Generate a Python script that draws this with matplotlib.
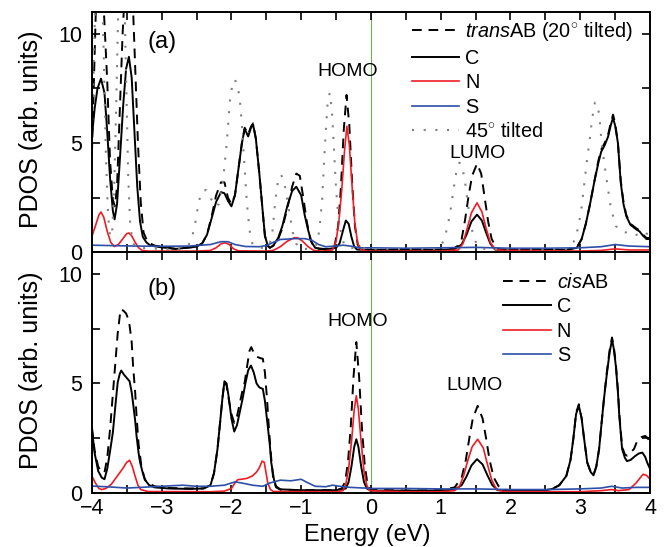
import numpy as np
import matplotlib
matplotlib.use("Agg")
import matplotlib.pyplot as plt
from matplotlib.ticker import MultipleLocator

plt.rcParams['font.family'] = ['Liberation Sans', 'DejaVu Sans']
plt.rcParams['mathtext.fontset'] = 'custom'
plt.rcParams['mathtext.rm'] = 'Liberation Sans'
plt.rcParams['mathtext.it'] = 'Liberation Sans:italic'

# ---- panel (a): transAB (20 deg tilted) ----
transAB_E = [-4.0, -3.97, -3.94, -3.9, -3.86, -3.82, -3.78, -3.74, -3.7, -3.67, -3.64, -3.6, -3.56, -3.52, -3.47, -3.42,
             -3.38, -3.34, -3.3, -3.26, -3.2, -3.1, -3.0, -2.8, -2.65, -2.5, -2.42, -2.35, -2.28, -2.22, -2.15, -2.1,
             -2.05, -2.0, -1.95, -1.9, -1.85, -1.81, -1.76, -1.72, -1.69, -1.65, -1.6, -1.55, -1.52, -1.48, -1.45, -1.4,
             -1.33, -1.27, -1.2, -1.13, -1.07, -1.02, -0.97, -0.92, -0.87, -0.82, -0.75, -0.6, -0.52, -0.47, -0.43, -0.39,
             -0.35, -0.31, -0.27, -0.23, -0.19, -0.15, 0.0, 0.5, 1.0, 1.2, 1.25, 1.3, 1.35, 1.4, 1.45, 1.52, 1.58, 1.63,
             1.68, 1.73, 1.8, 1.85, 2.0, 2.5, 2.8, 2.95, 3.02, 3.08, 3.14, 3.2, 3.26, 3.3, 3.35, 3.4, 3.44, 3.47, 3.5,
             3.54, 3.58, 3.62, 3.66, 3.72, 3.8, 3.85, 3.9, 3.95, 4.0]
transAB = [4.5, 8.0, 11.5, 13.5, 13.0, 10.5, 7.8, 4.2, 2.4, 2.1, 3.0, 6.5, 10.0, 12.5, 13.5, 12.0,
           8.5, 5.0, 2.3, 0.9, 0.45, 0.3, 0.25, 0.15, 0.2, 0.25, 0.4, 0.8, 1.7, 2.6, 3.2, 3.2,
           2.5, 2.2, 2.6, 3.8, 5.0, 5.7, 5.4, 5.75, 5.9, 5.2, 3.6, 1.8, 0.75, 0.3, 0.2, 0.3,
           0.6, 1.1, 2.0, 3.0, 3.6, 3.5, 2.5, 1.4, 0.6, 0.25, 0.15, 0.15, 0.3, 1.2, 3.0, 5.6,
           7.2, 5.8, 3.2, 1.2, 0.35, 0.15, 0.1, 0.1, 0.12, 0.2, 0.3, 0.6, 1.5, 2.6, 3.5, 4.05, 3.6, 2.5,
           1.4, 0.6, 0.2, 0.12, 0.1, 0.1, 0.1, 0.2, 0.6, 1.3, 2.2, 3.2, 4.2, 4.7, 5.0, 5.4, 5.95, 6.3, 5.9,
           5.0, 3.3, 2.3, 1.7, 1.3, 1.1, 1.0, 0.8, 0.65, 0.65]

transC_E = [-4.0, -3.96, -3.92, -3.87, -3.82, -3.78, -3.74, -3.7, -3.675, -3.64, -3.6, -3.55, -3.51, -3.47, -3.43, -3.39,
            -3.35, -3.31, -3.27, -3.22, -3.16, -3.0, -2.8, -2.65, -2.5, -2.42, -2.35, -2.28, -2.22, -2.15, -2.1, -2.05,
            -2.0, -1.95, -1.9, -1.85, -1.81, -1.76, -1.72, -1.69, -1.65, -1.6, -1.55, -1.52, -1.48, -1.45, -1.4, -1.33,
            -1.27, -1.2, -1.13, -1.07, -1.0, -0.95, -0.9, -0.85, -0.8, -0.7, -0.6, -0.5, -0.45, -0.4, -0.36, -0.32,
            -0.28, -0.24, -0.2, 0.0, 0.5, 1.0, 1.2, 1.3, 1.37, 1.44, 1.52, 1.59, 1.65, 1.71, 1.78, 2.0, 2.5, 2.8,
            2.95, 3.02, 3.08, 3.14, 3.2, 3.26, 3.3, 3.35, 3.4, 3.44, 3.47, 3.5, 3.54, 3.58, 3.62, 3.66, 3.72, 3.8,
            3.85, 3.9, 3.95, 4.0]
transC = [5.3, 6.6, 7.5, 7.95, 7.3, 5.5, 3.4, 1.9, 1.5, 2.2, 4.2, 6.8, 8.4, 8.95, 8.0, 5.5,
          3.0, 1.4, 0.7, 0.45, 0.3, 0.22, 0.15, 0.2, 0.25, 0.4, 0.8, 1.6, 2.3, 2.75, 2.7, 2.35,
          2.1, 2.6, 3.8, 5.0, 5.65, 5.3, 5.7, 5.85, 5.2, 3.6, 1.8, 0.75, 0.3, 0.2, 0.3, 0.65,
          1.2, 2.1, 2.8, 3.0, 2.6, 1.7, 1.0, 0.45, 0.2, 0.15, 0.15, 0.2, 0.4, 1.0, 1.45, 1.3,
          0.7, 0.25, 0.12, 0.1, 0.1, 0.1, 0.15, 0.35, 0.8, 1.4, 1.72, 1.45, 0.9, 0.4, 0.12, 0.1, 0.1, 0.1,
          0.2, 0.6, 1.3, 2.2, 3.2, 4.1, 4.6, 4.9, 5.3, 5.85, 6.15, 5.8, 5.0, 3.2, 2.2, 1.65, 1.25, 1.05,
          0.95, 0.75, 0.6, 0.6]

transN_E = [-4.0, -3.95, -3.9, -3.87, -3.83, -3.78, -3.73, -3.68, -3.62, -3.56, -3.5, -3.47, -3.43, -3.38, -3.33, -3.28,
            -3.2, -2.5, -2.3, -2.22, -2.15, -2.09, -2.03, -1.97, -1.9, -1.5, -1.4, -1.3, -1.2, -1.1, -1.05, -0.98,
            -0.9, -0.82, -0.7, -0.55, -0.5, -0.46, -0.42, -0.38, -0.345, -0.31, -0.27, -0.23, -0.19, -0.14, -0.05,
            1.0, 1.25, 1.32, 1.38, 1.44, 1.52, 1.59, 1.65, 1.71, 1.78, 1.9, 3.0, 3.3, 3.5, 3.7, 4.0]
transN = [0.73, 1.2, 1.7, 1.84, 1.6, 0.95, 0.45, 0.26, 0.35, 0.6, 0.85, 0.88, 0.75, 0.45, 0.2, 0.08,
          0.05, 0.05, 0.08, 0.2, 0.38, 0.43, 0.35, 0.15, 0.06, 0.05, 0.08, 0.25, 0.5, 0.66, 0.66, 0.5,
          0.25, 0.08, 0.05, 0.1, 0.5, 1.4, 2.8, 4.6, 5.77, 4.9, 3.0, 1.3, 0.4, 0.1, 0.05,
          0.05, 0.1, 0.4, 1.1, 1.8, 2.26, 1.85, 1.1, 0.45, 0.12, 0.08, 0.05, 0.08, 0.15, 0.1, 0.1]

transS_E = [-4.0, -3.7, -3.4, -3.0, -2.6, -2.3, -2.15, -2.05, -1.95, -1.8, -1.6, -1.5, -1.4, -1.3, -1.1, -0.95,
            -0.85, -0.75, -0.65, -0.5, -0.4, -0.3, -0.15, 0.0, 0.5, 1.0, 1.5, 2.0, 2.5, 3.0, 3.3, 3.5, 3.7, 4.0]
transS = [0.32, 0.3, 0.28, 0.27, 0.28, 0.35, 0.48, 0.48, 0.35, 0.26, 0.25, 0.3, 0.45, 0.58, 0.62, 0.62,
          0.55, 0.35, 0.25, 0.28, 0.32, 0.28, 0.2, 0.2, 0.18, 0.2, 0.22, 0.18, 0.18, 0.2, 0.25, 0.35, 0.28, 0.25]

tilt45_E = [-4.0, -3.97, -3.94, -3.9, -3.86, -3.83, -3.8, -3.77, -3.74, -3.71, -3.68, -3.65, -3.62, -3.58, -3.54, -3.51,
            -3.48, -3.45, -3.41, -3.35, -3.0, -2.7, -2.62, -2.57, -2.52, -2.47, -2.42, -2.36, -2.3, -2.24, -2.18, -2.12,
            -2.07, -2.02, -1.98, -1.95, -1.91, -1.88, -1.85, -1.82, -1.78, -1.74, -1.7, -1.64, -1.5, -1.45, -1.41, -1.37,
            -1.33, -1.29, -1.25, -1.21, -1.17, -1.12, -1.06, -1.0, -0.85, -0.78, -0.74, -0.7, -0.66, -0.62, -0.59, -0.56,
            -0.53, -0.5, -0.47, -0.43, -0.39, -0.33, 0.0, 0.5, 0.9, 1.0, 1.05, 1.1, 1.14, 1.18, 1.22, 1.27, 1.31, 1.35,
            1.39, 1.43, 1.47, 1.52, 1.6, 2.0, 2.5, 2.8, 2.87, 2.94, 3.01, 3.06, 3.1, 3.13, 3.17, 3.21, 3.25, 3.28,
            3.31, 3.37, 3.44, 3.51, 3.58, 3.66, 3.77, 3.85, 3.9, 3.95, 4.0]
tilt45 = [5.5, 9.0, 13.0, 15.0, 13.0, 9.0, 4.5, 1.8, 0.7, 0.9, 3.0, 7.0, 11.5, 14.0, 12.5, 8.0,
          3.5, 1.2, 0.4, 0.2, 0.15, 0.15, 0.3, 0.6, 1.3, 2.3, 2.8, 2.85, 2.5, 2.1, 2.2, 3.3,
          4.9, 7.0, 7.8, 7.9, 7.6, 7.0, 5.8, 4.3, 2.3, 1.0, 0.4, 0.2, 0.2, 0.4, 1.0, 2.4,
          3.3, 3.55, 3.3, 2.6, 1.8, 0.9, 0.3, 0.15, 0.15, 0.35, 1.0, 2.4, 4.9, 6.9, 7.3, 6.5,
          4.7, 2.9, 1.7, 0.9, 0.4, 0.2, 0.15, 0.15, 0.15, 0.25, 0.6, 1.2, 1.9, 2.8, 3.6, 4.1, 3.9, 3.2,
          2.2, 1.3, 0.7, 0.35, 0.15, 0.12, 0.12, 0.15, 0.25, 0.7, 1.8, 3.2, 4.3, 5.0, 6.1, 6.85, 6.8, 6.0,
          4.9, 3.5, 2.0, 1.2, 0.95, 0.9, 0.75, 0.85, 0.95, 0.85, 0.8]

# ---- panel (b): cisAB ----
cisAB_E = [-4.0, -3.96, -3.91, -3.86, -3.82, -3.78, -3.74, -3.7, -3.66, -3.63, -3.6, -3.58, -3.54, -3.51, -3.48, -3.46,
           -3.43, -3.41, -3.38, -3.36, -3.33, -3.29, -3.24, -3.2, -3.1, -2.9, -2.6, -2.4, -2.3, -2.25, -2.2, -2.16,
           -2.13, -2.1, -2.07, -2.04, -2.0, -1.96, -1.92, -1.88, -1.84, -1.81, -1.77, -1.74, -1.716, -1.68, -1.65, -1.62,
           -1.58, -1.55, -1.52, -1.49, -1.46, -1.43, -1.4, -1.36, -1.3, -1.0, -0.5, -0.42, -0.37, -0.33, -0.29, -0.25,
           -0.21, -0.17, -0.13, -0.09, -0.05, -0.01, 0.5, 1.0, 1.2, 1.3, 1.36, 1.41, 1.46, 1.53, 1.6, 1.65, 1.7, 1.76,
           1.83, 1.9, 2.0, 2.5, 2.6, 2.7, 2.8, 2.86, 2.9, 2.94, 2.98, 3.02, 3.05, 3.1, 3.15, 3.19, 3.23, 3.27,
           3.3, 3.34, 3.38, 3.42, 3.455, 3.48, 3.51, 3.54, 3.56, 3.6, 3.64, 3.67, 3.72, 3.77, 3.82, 3.88, 3.93, 3.97, 4.0]
cisAB = [3.0, 1.9, 1.2, 0.95, 0.93, 1.6, 2.9, 4.5, 6.1, 7.3, 8.1, 8.4, 8.3, 8.2, 7.95, 7.65,
         6.9, 5.8, 4.6, 3.5, 2.2, 1.2, 0.6, 0.45, 0.3, 0.22, 0.2, 0.2, 0.35, 0.9, 2.0, 3.3,
         4.3, 5.1, 4.9, 4.3, 3.6, 3.2, 3.5, 4.1, 4.7, 5.05, 5.9, 6.5, 6.66, 6.4, 6.25, 6.2,
         6.15, 6.13, 5.5, 4.3, 2.8, 1.6, 0.6, 0.25, 0.15, 0.12, 0.12, 0.2, 0.5, 1.4, 3.0, 5.3,
         6.89, 5.3, 3.0, 1.3, 0.4, 0.15, 0.1, 0.12, 0.25, 0.7, 1.5, 2.5, 3.4, 3.98, 3.4, 2.5, 1.5, 0.7,
         0.3, 0.15, 0.12, 0.12, 0.18, 0.35, 0.77, 1.5, 2.45, 3.65, 4.05, 3.4, 2.6, 1.4, 0.95, 0.82, 1.2, 2.0,
         3.0, 4.3, 5.5, 6.5, 7.1, 6.7, 5.9, 4.7, 3.6, 2.1, 1.75, 1.7, 1.85, 2.0, 2.4, 2.55, 2.6, 2.5, 2.2]

cisC_E = [-4.0, -3.96, -3.91, -3.86, -3.82, -3.78, -3.74, -3.7, -3.66, -3.63, -3.6, -3.58, -3.54, -3.5, -3.46, -3.43,
          -3.41, -3.38, -3.36, -3.33, -3.31, -3.27, -3.24, -3.18, -3.1, -2.9, -2.6, -2.4, -2.3, -2.25, -2.2, -2.16,
          -2.13, -2.1, -2.07, -2.04, -2.0, -1.96, -1.92, -1.88, -1.84, -1.8, -1.76, -1.72, -1.68, -1.64, -1.6, -1.55,
          -1.52, -1.48, -1.45, -1.43, -1.39, -1.36, -1.3, -1.0, -0.5, -0.36, -0.32, -0.28, -0.24, -0.21, -0.18, -0.14,
          -0.1, -0.06, 0.0, 0.5, 1.0, 1.2, 1.3, 1.37, 1.44, 1.52, 1.6, 1.67, 1.74, 1.82, 2.0, 2.5, 2.6, 2.7,
          2.8, 2.86, 2.9, 2.94, 2.98, 3.02, 3.05, 3.1, 3.15, 3.19, 3.23, 3.27, 3.3, 3.34, 3.38, 3.42, 3.455, 3.48,
          3.51, 3.54, 3.56, 3.6, 3.64, 3.67, 3.72, 3.79, 3.84, 3.89, 3.93, 3.96, 4.0]
cisC = [2.9, 1.8, 1.0, 0.7, 0.62, 1.1, 1.9, 2.75, 4.1, 5.05, 5.45, 5.59, 5.4, 5.25, 5.1, 4.6,
        4.1, 3.3, 2.6, 1.8, 1.4, 0.9, 0.6, 0.35, 0.25, 0.2, 0.18, 0.2, 0.35, 0.9, 2.0, 3.3,
        4.3, 5.1, 5.0, 4.4, 3.4, 2.8, 3.1, 3.7, 4.3, 5.0, 5.6, 5.82, 5.5, 5.0, 4.82, 4.75,
        4.2, 3.06, 2.2, 1.4, 0.6, 0.3, 0.16, 0.12, 0.12, 0.2, 0.5, 1.2, 2.1, 2.45, 2.1, 1.2,
        0.5, 0.2, 0.1, 0.1, 0.1, 0.15, 0.35, 0.75, 1.25, 1.54, 1.3, 0.8, 0.35, 0.12, 0.1, 0.12, 0.18, 0.35,
        0.77, 1.5, 2.45, 3.6, 3.98, 3.4, 2.6, 1.38, 0.95, 0.8, 1.2, 2.0, 3.0, 4.3, 5.4, 6.4, 7.0, 6.6,
        5.8, 4.6, 3.5, 2.0, 1.6, 1.45, 1.5, 1.69, 1.8, 1.84, 1.65, 1.38, 1.1]

cisN_E = [-4.0, -3.95, -3.9, -3.86, -3.8, -3.72, -3.64, -3.56, -3.5, -3.46, -3.42, -3.38, -3.34, -3.3, -3.2, -2.3,
          -2.1, -2.0, -1.95, -1.91, -1.84, -1.78, -1.7, -1.64, -1.6, -1.56, -1.53, -1.5, -1.48, -1.44, -1.4, -0.5,
          -0.4, -0.36, -0.32, -0.28, -0.24, -0.21, -0.18, -0.14, -0.1, -0.06, -0.02, 0.5, 1.0, 1.2, 1.27, 1.33,
          1.39, 1.45, 1.53, 1.61, 1.67, 1.73, 1.8, 1.9, 3.0, 3.3, 3.45, 3.55, 3.7, 3.8, 3.9, 3.95, 4.0]
cisN = [0.77, 0.45, 0.2, 0.15, 0.2, 0.4, 0.75, 1.1, 1.4, 1.49, 1.2, 0.75, 0.35, 0.15, 0.06, 0.05,
        0.08, 0.2, 0.45, 0.6, 0.63, 0.66, 0.77, 0.95, 1.15, 1.45, 1.4, 0.85, 0.46, 0.15, 0.06, 0.05,
        0.1, 0.4, 1.1, 2.3, 3.8, 4.44, 3.8, 2.3, 1.0, 0.35, 0.1, 0.05, 0.05, 0.1, 0.3, 0.8,
        1.5, 2.1, 2.45, 2.05, 1.3, 0.6, 0.15, 0.06, 0.05, 0.1, 0.15, 0.1, 0.15, 0.45, 0.85, 0.8, 0.62]

cisS_E = [-4.0, -3.8, -3.5, -3.3, -3.0, -2.7, -2.5, -2.3, -2.1, -1.95, -1.85, -1.7, -1.55, -1.45, -1.3, -1.15,
          -1.0, -0.93, -0.8, -0.65, -0.55, -0.45, -0.3, -0.1, 0.0, 0.5, 1.0, 1.5, 2.0, 2.5, 3.0, 3.3, 3.45, 3.6, 3.8, 4.0]
cisS = [0.31, 0.28, 0.22, 0.25, 0.3, 0.35, 0.3, 0.3, 0.35, 0.5, 0.45, 0.35, 0.3, 0.45, 0.58, 0.55,
        0.62, 0.5, 0.3, 0.28, 0.35, 0.3, 0.25, 0.22, 0.2, 0.2, 0.18, 0.18, 0.15, 0.15, 0.18, 0.22, 0.3, 0.22, 0.25, 0.25]

fig = plt.figure(figsize=(6.66, 5.47), dpi=100)
ax1 = fig.add_axes([0.138, 0.539, 0.838, 0.439])
ax2 = fig.add_axes([0.138, 0.099, 0.838, 0.440], sharex=ax1)

dash = (0, (5, 3.5))
dots = (0, (1, 4.6))
lw = 1.4

ax1.plot(transAB_E, transAB, color='black', lw=lw, linestyle=dash, label=r'$\mathit{trans}$AB (20$^{\circ}$ tilted)')
ax1.plot(transC_E, transC, color='black', lw=lw, label='C')
ax1.plot(transN_E, transN, color='#ee1c24', lw=1.2, label='N')
ax1.plot(transS_E, transS, color='#2e4fa8', lw=1.2, label='S')
ax1.plot(tilt45_E, tilt45, color='#808080', lw=1.5, linestyle=dots, label=r'45$^{\circ}$ tilted')

ax2.plot(cisAB_E, cisAB, color='black', lw=lw, linestyle=dash, label=r'$\mathit{cis}$AB')
ax2.plot(cisC_E, cisC, color='black', lw=lw, label='C')
ax2.plot(cisN_E, cisN, color='#ee1c24', lw=1.2, label='N')
ax2.plot(cisS_E, cisS, color='#2e4fa8', lw=1.2, label='S')

for ax in (ax1, ax2):
    ax.axvline(0, color='#6bb34a', lw=0.8, zorder=0)
    ax.set_xlim(-4, 4)
    ax.set_ylim(0, 11)
    ax.xaxis.set_major_locator(MultipleLocator(1))
    ax.xaxis.set_minor_locator(MultipleLocator(0.5))
    ax.yaxis.set_major_locator(MultipleLocator(5))
    ax.yaxis.set_minor_locator(MultipleLocator(2.5))
    ax.tick_params(which='both', direction='in', top=True, right=True, width=1.2, labelsize=15.5)
    ax.tick_params(which='major', length=6)
    ax.tick_params(which='minor', length=6)
    ax.tick_params(axis='y', pad=7)
    ax.tick_params(axis='x', pad=4)
    for s in ax.spines.values():
        s.set_linewidth(1.4)
    ax.set_ylabel('PDOS (arb. units)', fontsize=18)
    ax.yaxis.set_label_coords(-0.088, 0.51)

plt.setp(ax1.get_xticklabels(), visible=False)
ax2.set_xlabel('Energy (eV)', fontsize=17, va='baseline')
ax2.xaxis.set_label_coords(0.494, -0.201)

ax1.text(-3.0, 9.65, '(a)', fontsize=17, ha='center', va='center')
ax2.text(-3.0, 9.33, '(b)', fontsize=17, ha='center', va='center')
ax1.text(-0.33, 8.26, 'HOMO', fontsize=14, ha='center', va='center')
ax1.text(1.52, 4.52, 'LUMO', fontsize=14, ha='center', va='center')
ax2.text(-0.19, 7.84, 'HOMO', fontsize=14, ha='center', va='center')
ax2.text(1.49, 4.9, 'LUMO', fontsize=14, ha='center', va='center')

ax1.legend(loc='upper left', bbox_to_anchor=(0.573, 0.967), frameon=False, fontsize=14.3,
           handlelength=2.4, handletextpad=0.3, labelspacing=0.28, borderpad=0, borderaxespad=0)
ax2.legend(loc='upper left', bbox_to_anchor=(0.737, 0.915), frameon=False, fontsize=14.3,
           handlelength=2.4, handletextpad=0.3, labelspacing=0.28, borderpad=0, borderaxespad=0)

fig.savefig('out.png', dpi=100)
